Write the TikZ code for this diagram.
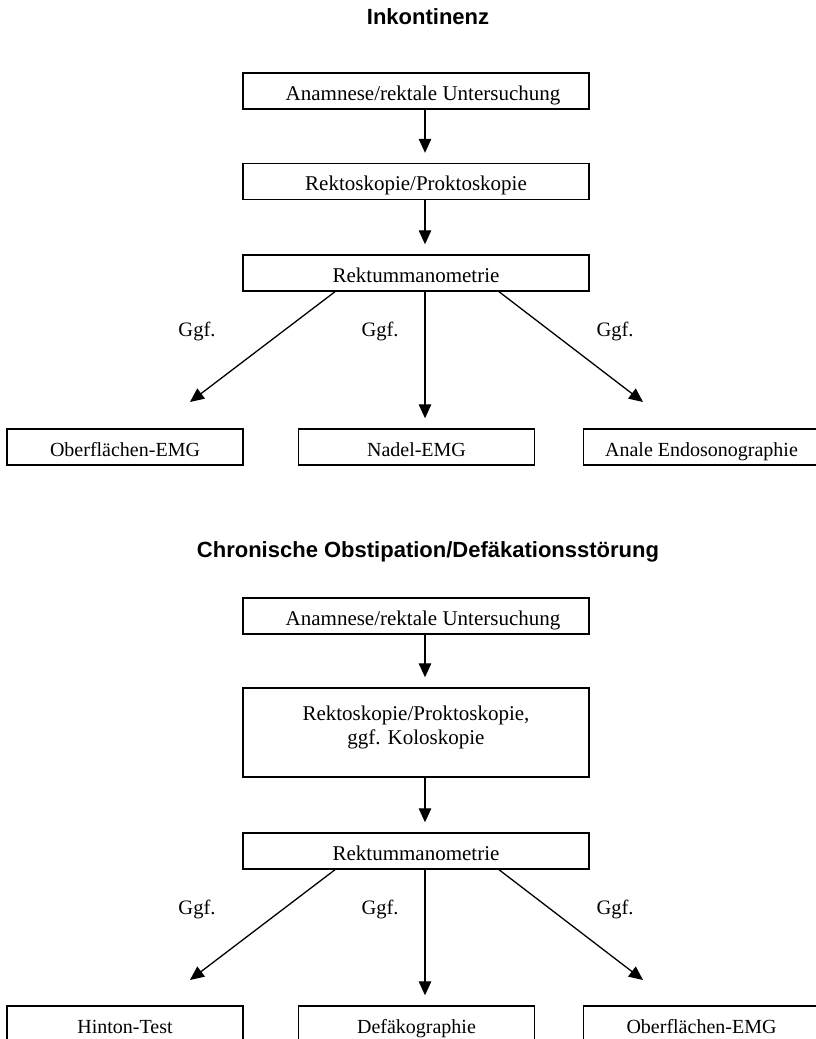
\documentclass[tikz,border=0pt]{standalone}
\usepackage{fontspec}
\setmainfont{Liberation Serif}
\newfontfamily\headfont{Liberation Sans}
\usetikzlibrary{arrows.meta}
\begin{document}
\begin{tikzpicture}[x=1pt,y=-1pt,
  box/.style={draw, line width=1.4pt, inner sep=0pt, minimum height=36pt,
    text height=18pt, text depth=0pt},
  wide/.style={box, minimum width=346pt, font=\fontsize{21}{24}\selectfont},
  small/.style={box, minimum width=236pt, font=\fontsize{20}{24}\selectfont},
  heading/.style={font=\headfont\bfseries\fontsize{22}{26}\selectfont, anchor=base, inner sep=0pt},
  cond/.style={font=\fontsize{20.5}{24}\selectfont, anchor=base, inner sep=0pt},
  arr/.style={line width=1.3pt, -{Triangle[length=14pt,width=12.5pt]}},
  gap/.style={shorten >=10pt}]
\useasboundingbox (0,0) rectangle (816,1039);
\clip (0,0) rectangle (816,1039);

% ---------- Inkontinenz ----------
\node[heading] (h1) at (428,24) {Inkontinenz};
\node[wide] (a1) at (416,91) {\hspace*{14pt}Anamnese/rektale Untersuchung};
\node[wide] (a2) at (416,181.5) {Rektoskopie/Proktoskopie};
\node[wide] (a3) at (416,273) {Rektummanometrie};
\node[small] (a4) at (125,447) {Oberflächen-EMG};
\node[small] (a5) at (416.5,447) {Nadel-EMG};
\node[small] (a6) at (701.5,447) {Anale Endosonographie};
\coordinate (ta) at (190,402);
\coordinate (tb) at (643,402);

\draw[arr,gap] (a1.south -| 425,0) -- (a2.north -| 425,0);
\draw[arr,gap] (a2.south -| 425,0) -- (a3.north -| 425,0);
\draw[arr] (a3.south -| 335,0) -- (ta);
\draw[arr,gap] (a3.south -| 425,0) -- (a5.north -| 425,0);
\draw[arr] (a3.south -| 499,0) -- (tb);
\node[cond] (g1) at (197,336) {Ggf.};
\node[cond] (g2) at (380,336) {Ggf.};
\node[cond] (g3) at (615,336) {Ggf.};

% ---------- Chronische Obstipation ----------
\node[heading] (h2) at (428,557) {Chronische Obstipation/Defäkationsstörung};
\node[wide] (b1) at (416,616) {\hspace*{14pt}Anamnese/rektale Untersuchung};
\node[wide, minimum height=89pt, align=center, text height=30pt, text depth=7pt] (b2) at (416,732.5)
  {Rektoskopie/Proktoskopie,\\ggf. Koloskopie};
\node[wide] (b3) at (416,851) {Rektummanometrie};
\node[small] (b4) at (125,1024) {Hinton-Test};
\node[small] (b5) at (416.5,1024) {Defäkographie};
\node[small] (b6) at (701.5,1024) {Oberflächen-EMG};
\coordinate (tc) at (190,980);
\coordinate (td) at (643,980);

\draw[arr,gap] (b1.south -| 425,0) -- (b2.north -| 425,0);
\draw[arr,gap] (b2.south -| 425,0) -- (b3.north -| 425,0);
\draw[arr] (b3.south -| 335,0) -- (tc);
\draw[arr,gap] (b3.south -| 425,0) -- (b5.north -| 425,0);
\draw[arr] (b3.south -| 499,0) -- (td);
\node[cond] (g4) at (197,914) {Ggf.};
\node[cond] (g5) at (380,914) {Ggf.};
\node[cond] (g6) at (615,914) {Ggf.};
\end{tikzpicture}
\end{document}
